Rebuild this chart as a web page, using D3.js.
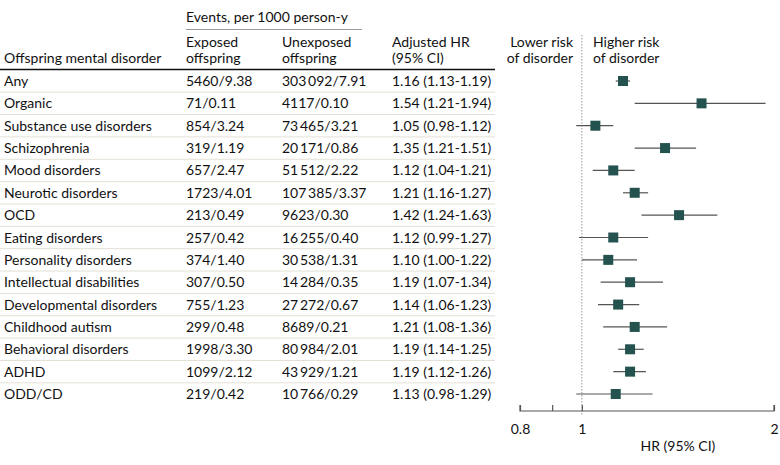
<!DOCTYPE html>
<html><head><meta charset="utf-8">
<script src="https://cdn.jsdelivr.net/npm/d3@7"></script>
<style>
html,body{margin:0;padding:0;background:#fff;}
svg text{font-family:Lato,"Open Sans",sans-serif;font-size:14px;fill:#111;}
</style></head><body>
<svg id="c" width="780" height="465"></svg>
<script>
const categories = ["Any","Organic","Substance use disorders","Schizophrenia","Mood disorders","Neurotic disorders","OCD","Eating disorders","Personality disorders","Intellectual disabilities","Developmental disorders","Childhood autism","Behavioral disorders","ADHD","ODD/CD"];
const exposed = ["5460/9.38","71/0.11","854/3.24","319/1.19","657/2.47","1723/4.01","213/0.49","257/0.42","374/1.40","307/0.50","755/1.23","299/0.48","1998/3.30","1099/2.12","219/0.42"];
const unexposed = ["303\u2009092/7.91","4117/0.10","73\u2009465/3.21","20\u2009171/0.86","51\u2009512/2.22","107\u2009385/3.37","9623/0.30","16\u2009255/0.40","30\u2009538/1.31","14\u2009284/0.35","27\u2009272/0.67","8689/0.21","80\u2009984/2.01","43\u2009929/1.21","10\u2009766/0.29"];
const hr = [1.16,1.54,1.05,1.35,1.12,1.21,1.42,1.12,1.10,1.19,1.14,1.21,1.19,1.19,1.13];
const lo = [1.13,1.21,0.98,1.21,1.04,1.16,1.24,0.99,1.00,1.07,1.06,1.08,1.14,1.12,0.98];
const hi = [1.19,1.94,1.12,1.51,1.21,1.27,1.63,1.27,1.22,1.34,1.23,1.36,1.25,1.26,1.29];
const xTicks = [0.8,1,2];
const xMinor = [0.9];

const svg = d3.select("#c");
const fmt = d3.format(".2f");
const hrLabel = i => `${fmt(hr[i])} (${fmt(lo[i])}-${fmt(hi[i])})`;

const y = d3.scalePoint().domain(categories).range([81, 394]);
const x = d3.scaleLog().domain([0.8, 2]).range([520, 774]);

// headers
svg.append("text").attr("x",186).attr("y",22).text("Events, per 1000 person-y");
svg.append("line").attr("x1",186).attr("x2",362).attr("y1",29.5).attr("y2",29.5).attr("stroke","#999").attr("stroke-width",1.2);
const hdr = [[4,["","Offspring mental disorder"]],[186,["Exposed","offspring"]],[282,["Unexposed","offspring"]],[392,["Adjusted HR","(95% CI)"]]];
hdr.forEach(([hx,lines])=>{
  lines.forEach((t,k)=>svg.append("text").attr("x",hx).attr("y",47+k*16).text(t));
});
svg.append("text").attr("x",573).attr("y",47).attr("text-anchor","end").text("Lower risk");
svg.append("text").attr("x",573).attr("y",63).attr("text-anchor","end").text("of disorder");
svg.append("text").attr("x",593).attr("y",47).text("Higher risk");
svg.append("text").attr("x",593).attr("y",63).text("of disorder");
svg.append("line").attr("x1",0).attr("x2",495).attr("y1",69.5).attr("y2",69.5).attr("stroke","#111").attr("stroke-width",1.3);

// row separators
const step = y.step();
categories.slice(0,-1).forEach(c=>{
  const yy = y(c)+step/2;
  svg.append("line").attr("x1",0).attr("x2",495).attr("y1",yy).attr("y2",yy).attr("stroke","#e2e0d6").attr("stroke-width",1);
});

// table rows
const rows = svg.append("g");
categories.forEach((c,i)=>{
  const yy = y(c)+5;
  rows.append("text").attr("x",4).attr("y",yy).text(c);
  rows.append("text").attr("x",186).attr("y",yy).text(exposed[i]);
  rows.append("text").attr("x",282).attr("y",yy).text(unexposed[i]);
  rows.append("text").attr("x",392).attr("y",yy).text(hrLabel(i));
});

// reference line
svg.append("line").attr("x1",x(1)).attr("x2",x(1)).attr("y1",35).attr("y2",416).attr("stroke","#aaa").attr("stroke-width",1.2).attr("stroke-dasharray","1.5,1.5");

// CI lines & markers
const g = svg.append("g");
categories.forEach((c,i)=>{
  g.append("line").attr("x1",x(lo[i])).attr("x2",x(hi[i])).attr("y1",y(c)).attr("y2",y(c)).attr("stroke","#555").attr("stroke-width",1.2);
  g.append("rect").attr("x",x(hr[i])-5).attr("y",y(c)-5).attr("width",10).attr("height",10).attr("fill","#24524f");
});

// axis
const axG = svg.append("g").attr("transform","translate(0,411)");
axG.call(d3.axisBottom(x).tickValues(xTicks).tickFormat(d3.format("")).tickSize(-6).tickPadding(10));
axG.select(".domain").attr("d",`M${x(0.8)},-6V0H${x(2)}V-6`).attr("stroke","#555").attr("stroke-width",1.2);
axG.selectAll(".tick line").attr("stroke","#555").attr("stroke-width",1.2);
axG.selectAll(".tick text").attr("font-size",null).attr("font-family",null).attr("dy","0.9em");
xMinor.forEach(v=>axG.append("line").attr("x1",x(v)).attr("x2",x(v)).attr("y1",0).attr("y2",-6).attr("stroke","#555").attr("stroke-width",1.2));
svg.append("text").attr("x",(x(1)+x(2))/2).attr("y",451).attr("text-anchor","middle").text("HR (95% CI)");
</script></body></html>
